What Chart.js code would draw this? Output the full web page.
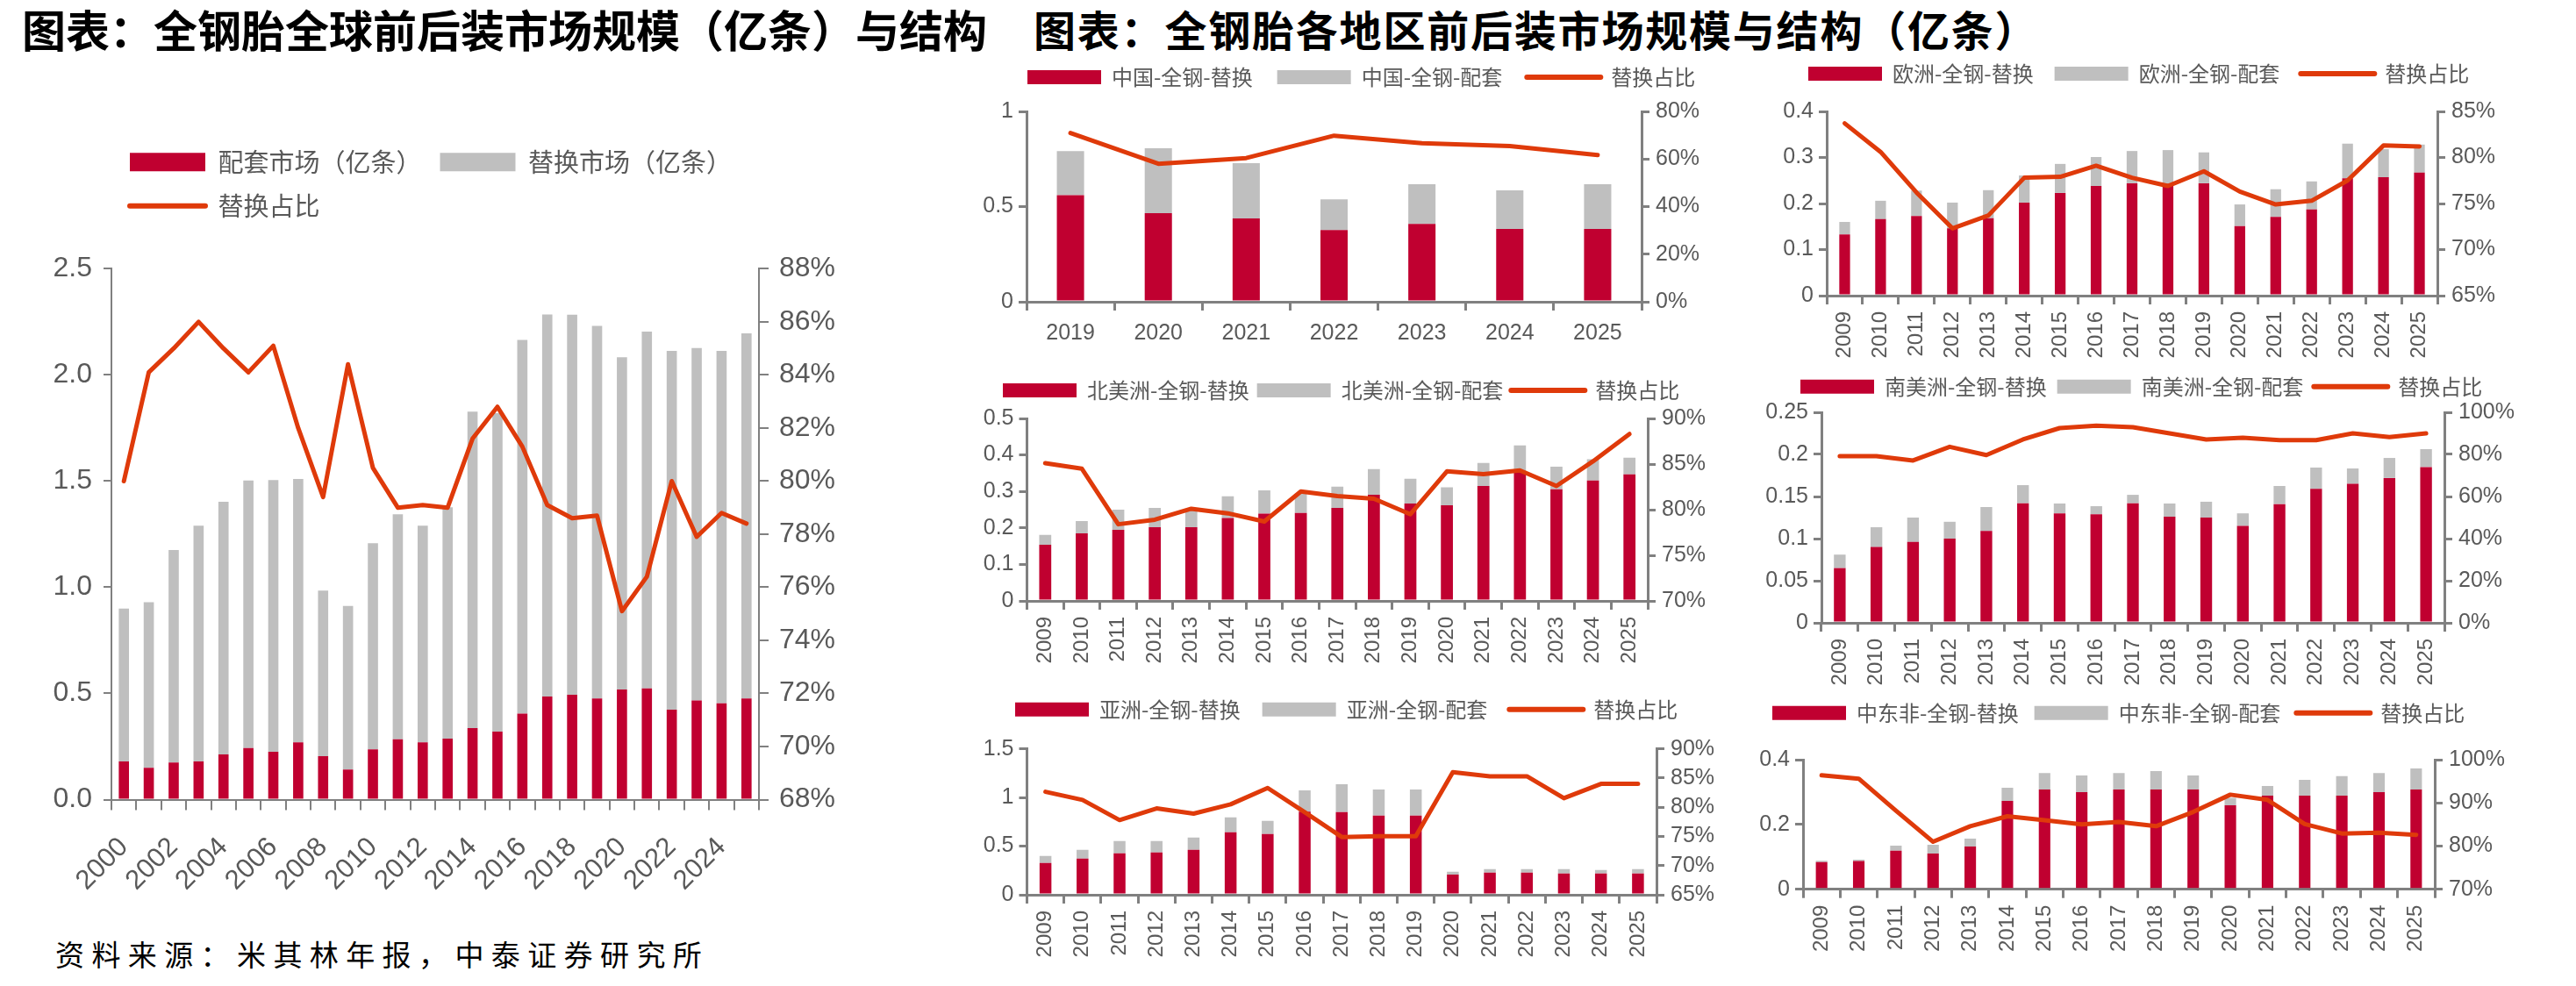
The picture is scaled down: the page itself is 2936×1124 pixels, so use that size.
<!DOCTYPE html>
<html lang="zh-CN">
<head>
<meta charset="utf-8">
<title>全钢胎前后装市场规模与结构</title>
<script src="https://cdn.jsdelivr.net/npm/chart.js@4.4.1/dist/chart.umd.min.js"></script>
<style>
  html, body { margin: 0; padding: 0; background: #fff; }
  body { position: relative; width: 2936px; height: 1124px; overflow: hidden; font-family: "Noto Sans CJK SC", sans-serif; }
  .title { position: absolute; font-weight: 700; color: #000; white-space: nowrap; line-height: 1; }
  .source { position: absolute; left: 63px; top: 1071px; font-size: 33px; letter-spacing: 8.4px; color: #000; white-space: nowrap; line-height: 1; }
  .box { position: absolute; }
  .box canvas { display: block; }
</style>
</head>
<body>
<div class="title" style="left:25px; top:7px; font-size:50px;">图表：全钢胎全球前后装市场规模（亿条）与结构</div>
<div class="title" style="left:1178px; top:8px; font-size:48px; letter-spacing:1.8px;">图表：全钢胎各地区前后装市场规模与结构（亿条）</div>
<div class="source">资料来源：米其林年报，中泰证券研究所</div>

<div class="box"><canvas id="globalChart"></canvas></div>
<div class="box"><canvas id="chinaChart"></canvas></div>
<div class="box"><canvas id="europeChart"></canvas></div>
<div class="box"><canvas id="namericaChart"></canvas></div>
<div class="box"><canvas id="samericaChart"></canvas></div>
<div class="box"><canvas id="asiaChart"></canvas></div>
<div class="box"><canvas id="meaChart"></canvas></div>

<script>
// ---------- 全球：配套 / 替换（亿条）与替换占比（%） ----------
const globalYears = ["2000", "2001", "2002", "2003", "2004", "2005", "2006", "2007", "2008", "2009", "2010", "2011", "2012",
  "2013", "2014", "2015", "2016", "2017", "2018", "2019", "2020", "2021", "2022", "2023", "2024", "2025"];
const globalOE = [0.18, 0.15, 0.175, 0.18, 0.213, 0.243, 0.225, 0.27, 0.204, 0.142, 0.237, 0.284, 0.27,
  0.287, 0.337, 0.32, 0.405, 0.485, 0.494, 0.476, 0.518, 0.524, 0.423, 0.467, 0.453, 0.476];
const globalRepl = [0.72, 0.78, 1.0, 1.11, 1.19, 1.26, 1.28, 1.24, 0.78, 0.77, 0.97, 1.06, 1.02,
  1.09, 1.49, 1.5, 1.76, 1.8, 1.79, 1.755, 1.565, 1.68, 1.69, 1.66, 1.66, 1.72];
const globalShare = [80.0, 84.1, 85.0, 86.0, 85.0, 84.1, 85.1, 82.0, 79.4, 84.4, 80.5, 79.0, 79.1,
  79.0, 81.6, 82.8, 81.3, 79.1, 78.6, 78.7, 75.1, 76.4, 80.0, 77.9, 78.8, 78.4];

// ---------- 各地区：替换 / 配套（亿条）与替换占比（%） ----------
const chinaYears = ["2019", "2020", "2021", "2022", "2023", "2024", "2025"];
const chinaRepl = [0.56, 0.465, 0.438, 0.377, 0.409, 0.382, 0.382];
const chinaOE = [0.232, 0.341, 0.29, 0.161, 0.208, 0.203, 0.235];
const chinaShare = [70.9, 58.0, 60.4, 69.8, 66.6, 65.4, 61.7];

const regionYears = ["2009", "2010", "2011", "2012", "2013", "2014", "2015", "2016", "2017",
  "2018", "2019", "2020", "2021", "2022", "2023", "2024", "2025"];

const europeRepl = [0.133, 0.166, 0.173, 0.146, 0.168, 0.202, 0.223, 0.238, 0.244, 0.243, 0.244, 0.151, 0.171, 0.187, 0.255, 0.257, 0.267];
const europeOE = [0.027, 0.04, 0.055, 0.056, 0.061, 0.059, 0.063, 0.063, 0.07, 0.073, 0.067, 0.047, 0.06, 0.061, 0.075, 0.061, 0.061];
const europeShare = [83.7, 80.6, 76.2, 72.3, 73.7, 77.8, 77.9, 79.1, 77.8, 76.9, 78.5, 76.3, 74.9, 75.3, 77.5, 81.3, 81.2];

const namericaRepl = [0.154, 0.185, 0.195, 0.202, 0.202, 0.227, 0.239, 0.241, 0.255, 0.291, 0.267, 0.262, 0.315, 0.356, 0.306, 0.33, 0.347];
const namericaOE = [0.027, 0.034, 0.055, 0.053, 0.0505, 0.0595, 0.064, 0.053, 0.058, 0.07, 0.068, 0.049, 0.063, 0.07, 0.062, 0.058, 0.0455];
const namericaShare = [85.1, 84.5, 78.4, 78.9, 80.1, 79.6, 78.7, 82.0, 81.5, 81.2, 79.5, 84.2, 83.9, 84.3, 82.6, 85.3, 88.3];

const samericaRepl = [0.065, 0.09, 0.096, 0.1, 0.109, 0.142, 0.13, 0.129, 0.142, 0.126, 0.125, 0.115, 0.141, 0.159, 0.165, 0.172, 0.185];
const samericaOE = [0.016, 0.0235, 0.029, 0.02, 0.0285, 0.0215, 0.0117, 0.0095, 0.01, 0.0157, 0.0188, 0.015, 0.0215, 0.0254, 0.0183, 0.0238, 0.0213];
const samericaShare = [79.2, 79.2, 77.1, 83.6, 79.7, 87.1, 92.5, 93.6, 92.9, 90.0, 87.1, 87.9, 86.8, 86.8, 90.0, 88.2, 90.0];

const asiaRepl = [0.327, 0.372, 0.426, 0.435, 0.462, 0.642, 0.624, 0.855, 0.849, 0.813, 0.813, 0.207, 0.228, 0.228, 0.219, 0.219, 0.219];
const asiaOE = [0.072, 0.09, 0.126, 0.117, 0.126, 0.153, 0.135, 0.219, 0.288, 0.27, 0.27, 0.03, 0.036, 0.036, 0.045, 0.036, 0.045];
const asiaShare = [82.65, 81.25, 77.8, 79.8, 78.9, 80.5, 83.3, 79.15, 74.9, 75.05, 75.05, 86.0, 85.3, 85.3, 81.55, 84.0, 84.0];

const meaRepl = [0.084, 0.087, 0.119, 0.11, 0.132, 0.273, 0.308, 0.3, 0.308, 0.308, 0.308, 0.259, 0.289, 0.289, 0.289, 0.3, 0.308];
const meaOE = [0.004, 0.004, 0.0155, 0.027, 0.024, 0.04, 0.051, 0.051, 0.051, 0.057, 0.043, 0.023, 0.03, 0.049, 0.06, 0.059, 0.065];
const meaShare = [96.4, 95.6, 88.2, 81.0, 84.6, 86.9, 86.0, 85.0, 85.6, 84.6, 87.9, 91.9, 90.7, 85.1, 82.9, 83.1, 82.6];

// ---------- styles ----------
const RED = "#C00030";
const GREY = "#BFBFBF";
const ORANGE = "#DF3A0A";
const AXIS = "#808080";
const TEXT = "#595959";
const CJK = "'Noto Sans CJK SC', sans-serif";

Chart.defaults.font.family = "'Liberation Sans', Arial, sans-serif";
Chart.defaults.color = TEXT;
Chart.defaults.animation = false;

// where each chart sits on the page (page pixels); plot = [left, right, top, bottom] of the plot area
const globalPanel = { left: 30, top: 140, width: 960, height: 900, plot: [127, 865, 306.4, 911.5], legendY: 184.7 };

const regionCharts = [
  {
    id: "chinaChart", names: ["中国-全钢-替换", "中国-全钢-配套"],
    years: chinaYears, repl: chinaRepl, oe: chinaOE, share: chinaShare,
    yMax: 1, yStep: 0.5, pctMin: 0, pctMax: 80, pctStep: 20,
    panel: { left: 1100, top: 40, width: 900, height: 370, plot: [1170, 1871, 127, 344], legendX: 1171, legendY: 88, gap: 28, rotate: 0, barPct: 0.31, xPad: 11 },
  },
  {
    id: "europeChart", names: ["欧洲-全钢-替换", "欧洲-全钢-配套"],
    years: regionYears, repl: europeRepl, oe: europeOE, share: europeShare,
    yMax: 0.4, yStep: 0.1, pctMin: 65, pctMax: 85, pctStep: 5,
    panel: { left: 2000, top: 40, width: 930, height: 380, plot: [2082, 2778, 127, 337], legendX: 2061, legendY: 84, gap: 24, rotate: 90, barPct: 0.3, xPad: 8 },
  },
  {
    id: "namericaChart", names: ["北美洲-全钢-替换", "北美洲-全钢-配套"],
    years: regionYears, repl: namericaRepl, oe: namericaOE, share: namericaShare,
    yMax: 0.5, yStep: 0.1, pctMin: 70, pctMax: 90, pctStep: 5,
    panel: { left: 1100, top: 416, width: 860, height: 359, plot: [1170.5, 1878, 477, 685], legendX: 1143, legendY: 445, gap: 9, rotate: 90, barPct: 0.33, xPad: 8 },
  },
  {
    id: "samericaChart", names: ["南美洲-全钢-替换", "南美洲-全钢-配套"],
    years: regionYears, repl: samericaRepl, oe: samericaOE, share: samericaShare,
    yMax: 0.25, yStep: 0.05, pctMin: 0, pctMax: 100, pctStep: 20,
    panel: { left: 2000, top: 408, width: 930, height: 382, plot: [2076, 2786, 470, 710], legendX: 2052, legendY: 440.7, gap: 12, rotate: 90, barPct: 0.32, xPad: 8 },
  },
  {
    id: "asiaChart", names: ["亚洲-全钢-替换", "亚洲-全钢-配套"],
    years: regionYears, repl: asiaRepl, oe: asiaOE, share: asiaShare,
    yMax: 1.5, yStep: 0.5, pctMin: 65, pctMax: 90, pctStep: 5,
    panel: { left: 1100, top: 764, width: 870, height: 346, plot: [1170.5, 1888, 853.7, 1020], legendX: 1157, legendY: 808.7, gap: 25, rotate: 90, barPct: 0.32, xPad: 8 },
  },
  {
    id: "meaChart", names: ["中东非-全钢-替换", "中东非-全钢-配套"],
    years: regionYears, repl: meaRepl, oe: meaOE, share: meaShare,
    yMax: 0.4, yStep: 0.2, pctMin: 70, pctMax: 100, pctStep: 10,
    panel: { left: 1990, top: 775, width: 940, height: 340, plot: [2055, 2775, 866, 1013.7], legendX: 2020, legendY: 812.7, gap: 18, rotate: 90, barPct: 0.31, xPad: 8 },
  },
];

function placeBox(canvasId, panel) {
  const box = document.getElementById(canvasId).parentNode;
  box.style.left = panel.left + "px";
  box.style.top = panel.top + "px";
  box.style.width = panel.width + "px";
  box.style.height = panel.height + "px";
}

// legend: filled boxes for bars, a thick stroke for the line, in dataset order
function legendItems(chart) {
  const items = Chart.defaults.plugins.legend.labels.generateLabels(chart);
  items.forEach((item) => {
    const ds = chart.data.datasets[item.datasetIndex];
    if (ds.type === "line") {
      item.pointStyle = "line";
      item.lineWidth = 6;
      item.lineCap = "round";
    } else {
      item.pointStyle = "rect";
      item.lineWidth = 0;
    }
  });
  return items;
}

// fixes the legend block height (so the plot starts where it should)
// and, if asked, moves the legend to a given left edge
function legendPlacement(height, left) {
  return {
    id: "legendPlacement",
    beforeInit(chart) {
      const fit = chart.legend.fit;
      chart.legend.fit = function () {
        fit.call(this);
        this.height = height;
      };
    },
    afterLayout(chart) {
      if (left !== undefined) {
        chart.legend.left = left;
      }
    },
  };
}

function axisGrid(tickLength, width) {
  return { display: true, drawOnChartArea: false, drawTicks: true, tickLength: tickLength, color: AXIS, lineWidth: width };
}

function renderGlobalChart() {
  const p = globalPanel;
  placeBox("globalChart", p);
  const legendFont = 29;
  const legendGap = 21;
  const [plotLeft, plotRight, plotTop, plotBottom] = p.plot;
  const padTop = p.legendY - p.top - legendGap - legendFont / 2;
  const leftAxisW = plotLeft - p.left;
  const rightAxisW = p.left + p.width - plotRight;
  const xAxisH = p.top + p.height - plotBottom;

  new Chart(document.getElementById("globalChart"), {
    type: "bar",
    data: {
      labels: globalYears,
      datasets: [
        { label: "配套市场（亿条）", data: globalOE, backgroundColor: RED, yAxisID: "y", order: 1, barPercentage: 0.41, categoryPercentage: 1 },
        { label: "替换市场（亿条）", data: globalRepl, backgroundColor: GREY, yAxisID: "y", order: 1, barPercentage: 0.41, categoryPercentage: 1 },
        {
          type: "line", label: "替换占比", data: globalShare, yAxisID: "y1", order: 0,
          borderColor: ORANGE, backgroundColor: ORANGE, borderWidth: 5, pointRadius: 0,
          tension: 0, borderJoinStyle: "round", borderCapStyle: "round",
        },
      ],
    },
    options: {
      responsive: true,
      maintainAspectRatio: false,
      devicePixelRatio: 1,
      layout: { padding: { left: 0, right: 0, top: padTop, bottom: 0 } },
      plugins: {
        tooltip: { enabled: false },
        legend: {
          position: "top",
          align: "start",
          fullSize: false,
          labels: {
            usePointStyle: true, pointStyleWidth: 86, boxHeight: 21, padding: legendGap, color: TEXT,
            font: { family: CJK, size: legendFont },
            generateLabels: legendItems,
            sort: (a, b) => a.datasetIndex - b.datasetIndex,
          },
        },
      },
      scales: {
        x: {
          stacked: true,
          offset: true,
          grid: { ...axisGrid(12, 2), offset: true },
          border: { display: true, color: AXIS, width: 2 },
          ticks: {
            autoSkip: false, minRotation: 45, maxRotation: 45, padding: 24, color: TEXT, font: { size: 31 },
            callback: (value, index) => (index % 2 === 0 ? globalYears[index] : ""),
          },
          afterFit: (scale) => { scale.height = xAxisH; },
        },
        y: {
          stacked: true,
          min: 0, max: 2.5,
          grid: axisGrid(9, 2),
          border: { display: true, color: AXIS, width: 2 },
          ticks: { stepSize: 0.5, padding: 13, color: TEXT, font: { size: 32 }, callback: (v) => v.toFixed(1) },
          afterFit: (scale) => { scale.width = leftAxisW; },
        },
        y1: {
          position: "right",
          min: 68, max: 88,
          grid: axisGrid(11, 2),
          border: { display: true, color: AXIS, width: 2 },
          ticks: { stepSize: 2, padding: 12, color: TEXT, font: { size: 32 }, callback: (v) => Math.round(v) + "%" },
          afterFit: (scale) => { scale.width = rightAxisW; },
        },
      },
    },
    plugins: [legendPlacement(plotTop - p.top - padTop)],
  });
}

function renderRegionChart(cfg) {
  const p = cfg.panel;
  placeBox(cfg.id, p);
  const legendFont = 24;
  const [plotLeft, plotRight, plotTop, plotBottom] = p.plot;
  const legendLeft = p.legendX - p.left - p.gap;
  const padTop = p.legendY - p.top - p.gap - legendFont / 2;
  const leftAxisW = plotLeft - p.left;
  const rightAxisW = p.left + p.width - plotRight;
  const xAxisH = p.top + p.height - plotBottom;

  new Chart(document.getElementById(cfg.id), {
    type: "bar",
    data: {
      labels: cfg.years,
      datasets: [
        { label: cfg.names[0], data: cfg.repl, backgroundColor: RED, yAxisID: "y", order: 1, barPercentage: p.barPct, categoryPercentage: 1 },
        { label: cfg.names[1], data: cfg.oe, backgroundColor: GREY, yAxisID: "y", order: 1, barPercentage: p.barPct, categoryPercentage: 1 },
        {
          type: "line", label: "替换占比", data: cfg.share, yAxisID: "y1", order: 0,
          borderColor: ORANGE, backgroundColor: ORANGE, borderWidth: 5, pointRadius: 0,
          tension: 0, borderJoinStyle: "round", borderCapStyle: "round",
        },
      ],
    },
    options: {
      responsive: true,
      maintainAspectRatio: false,
      devicePixelRatio: 1,
      layout: { padding: { left: 0, right: 0, top: padTop, bottom: 0 } },
      plugins: {
        tooltip: { enabled: false },
        legend: {
          position: "top",
          align: "start",
          labels: {
            usePointStyle: true, pointStyleWidth: 84, boxHeight: 16, padding: p.gap, color: TEXT,
            font: { family: CJK, size: legendFont },
            generateLabels: legendItems,
            sort: (a, b) => a.datasetIndex - b.datasetIndex,
          },
        },
      },
      scales: {
        x: {
          stacked: true,
          offset: true,
          grid: { ...axisGrid(10, 3), offset: true },
          border: { display: true, color: AXIS, width: 3 },
          ticks: {
            autoSkip: false, minRotation: p.rotate, maxRotation: p.rotate, padding: p.xPad, color: TEXT,
            font: { size: p.rotate ? 24 : 25 },
          },
          afterFit: (scale) => { scale.height = xAxisH; },
        },
        y: {
          stacked: true,
          min: 0, max: cfg.yMax,
          grid: axisGrid(9, 3),
          border: { display: true, color: AXIS, width: 3 },
          ticks: { stepSize: cfg.yStep, padding: 6, color: TEXT, font: { size: 25 }, callback: (v) => String(parseFloat(v.toFixed(2))) },
          afterFit: (scale) => { scale.width = leftAxisW; },
        },
        y1: {
          position: "right",
          min: cfg.pctMin, max: cfg.pctMax,
          grid: axisGrid(9, 3),
          border: { display: true, color: AXIS, width: 3 },
          ticks: { stepSize: cfg.pctStep, padding: 7, color: TEXT, font: { size: 25 }, callback: (v) => Math.round(v) + "%" },
          afterFit: (scale) => { scale.width = rightAxisW; },
        },
      },
    },
    plugins: [legendPlacement(plotTop - p.top - padTop, legendLeft)],
  });
}

renderGlobalChart();
regionCharts.forEach(renderRegionChart);
</script>
</body>
</html>
